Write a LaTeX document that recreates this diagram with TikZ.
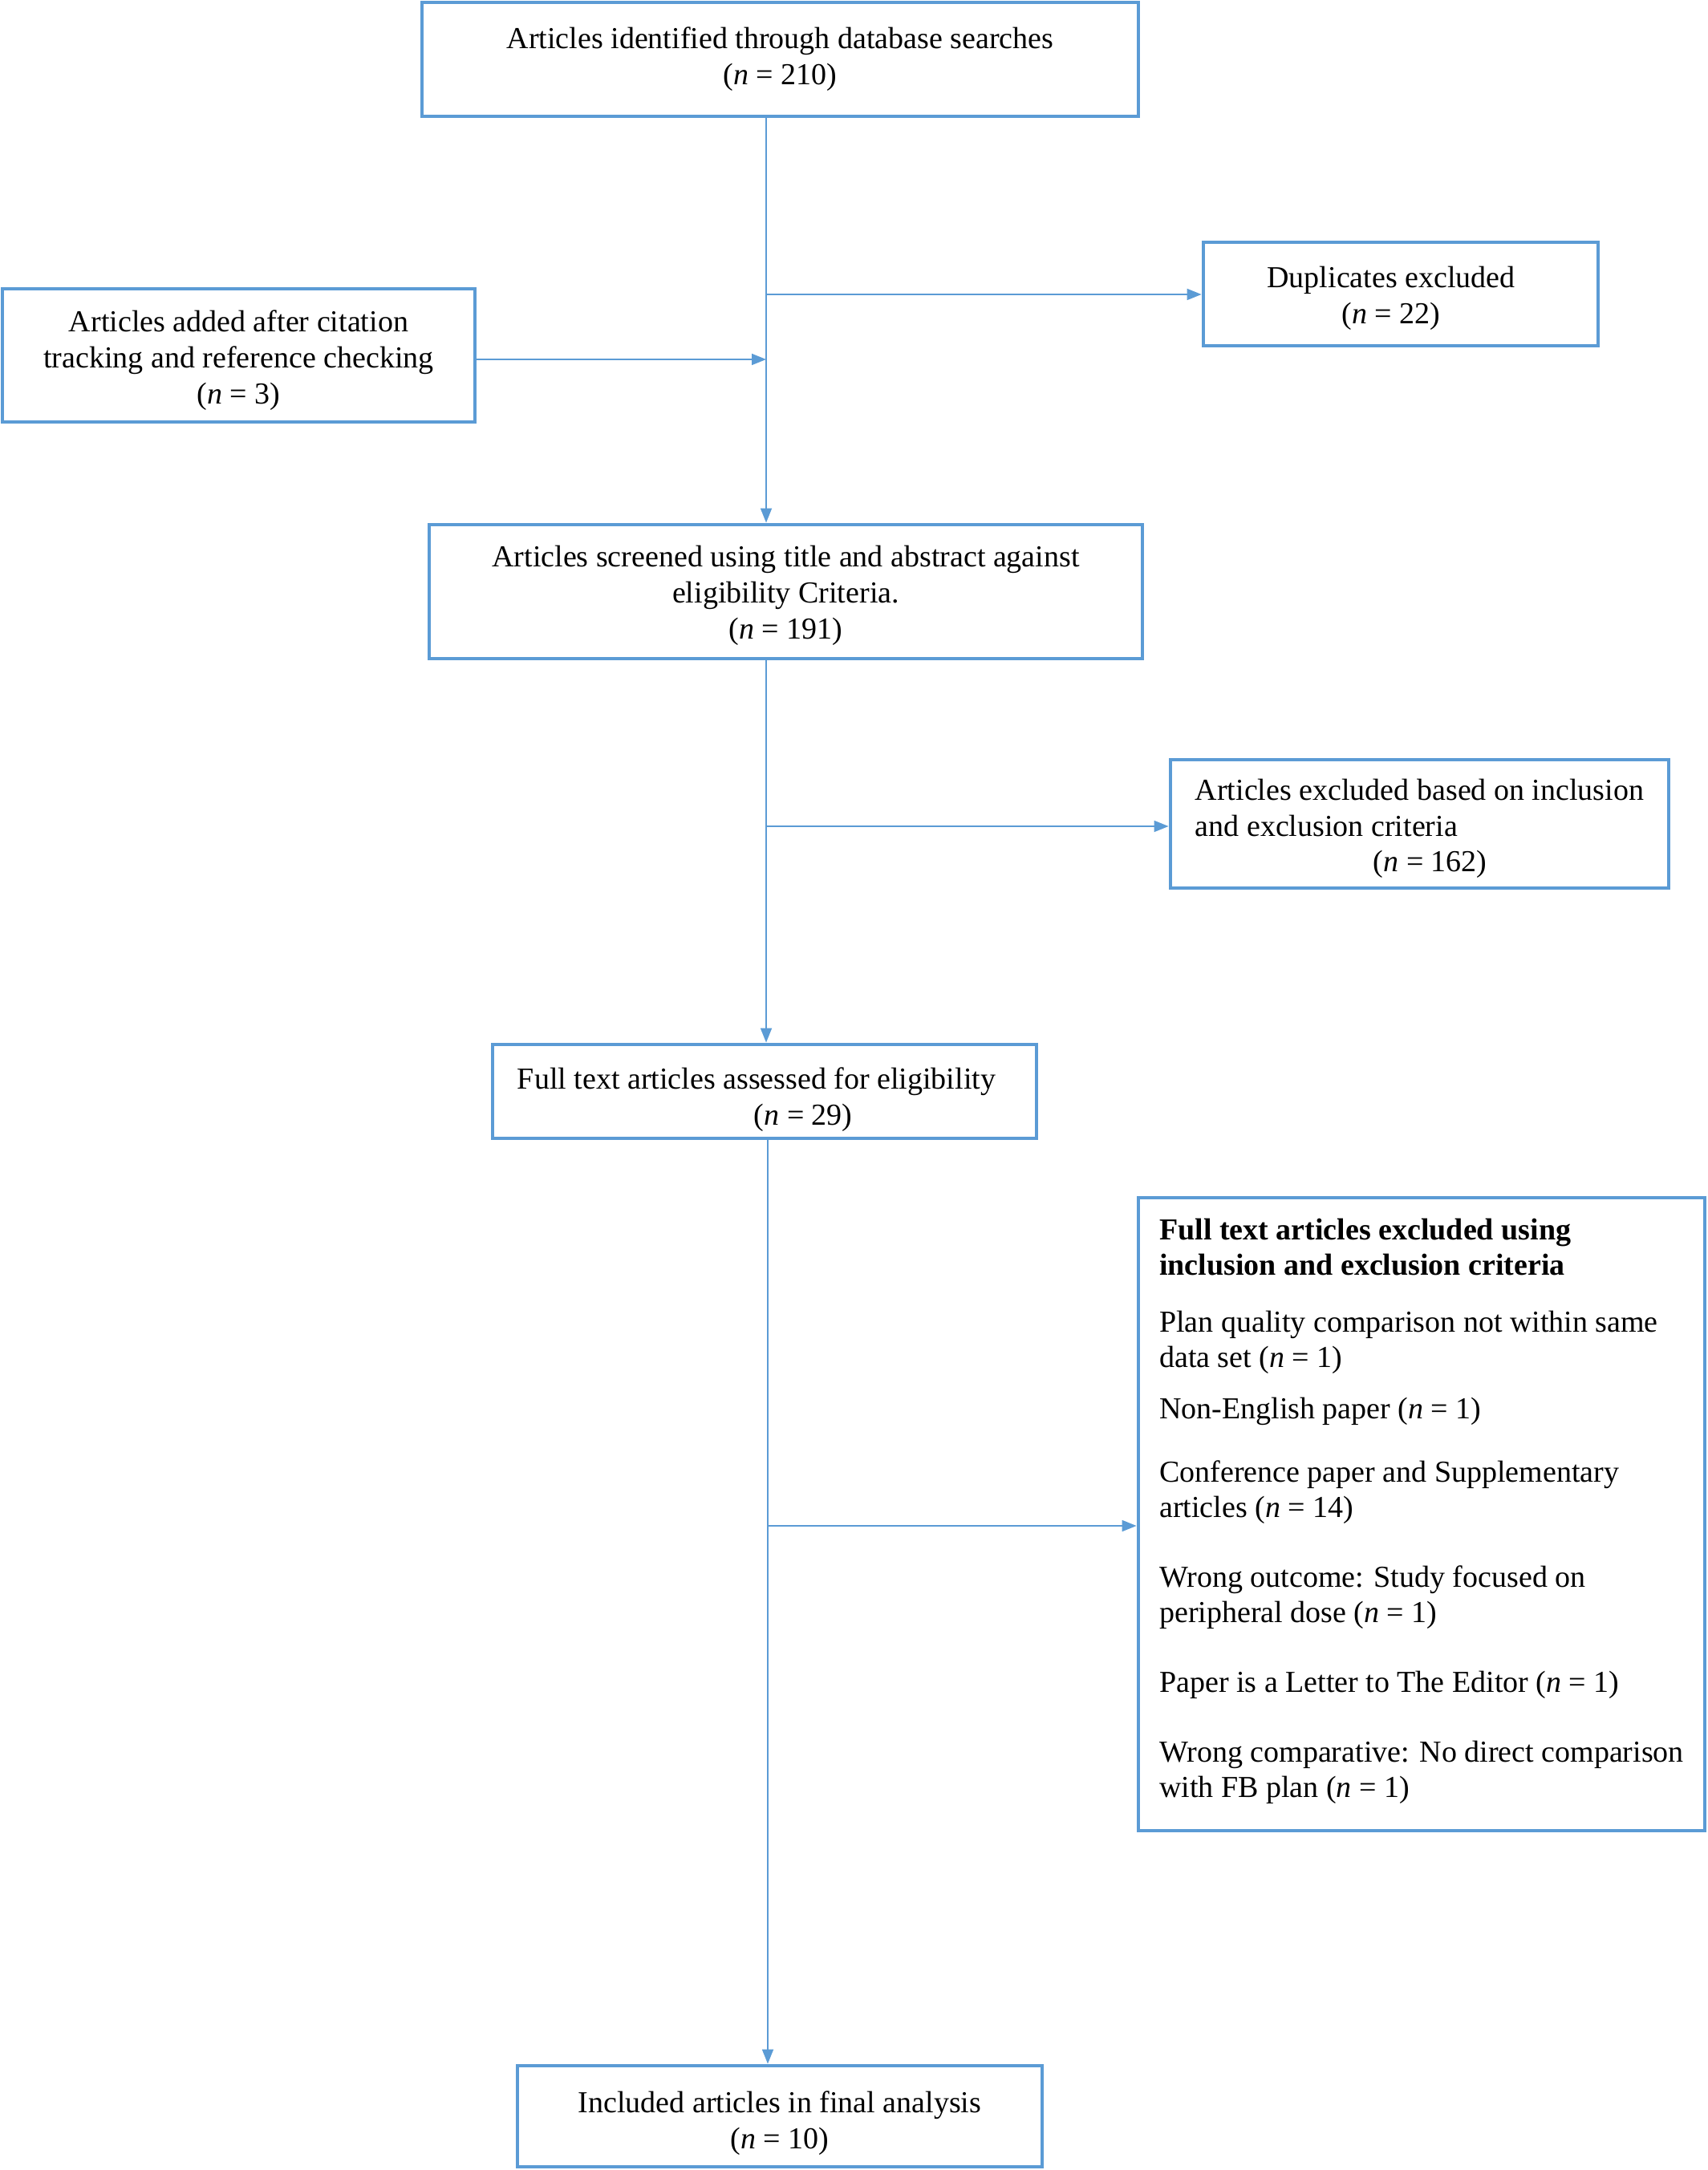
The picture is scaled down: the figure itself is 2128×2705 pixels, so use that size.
\documentclass[tikz,border=0pt]{standalone}
\usepackage{fontspec}
\setmainfont{Liberation Serif}
\usetikzlibrary{arrows.meta}
\definecolor{boxblue}{RGB}{91,155,213}
\begin{document}
\begin{tikzpicture}[x=0.25pt,y=-0.25pt,
  box/.style={draw=boxblue, line width=1.2pt, inner sep=0pt},
  txt/.style={inner sep=0pt, font=\fontsize{9.5pt}{11.2pt}\selectfont, align=center},
  conn/.style={draw=boxblue, line width=0.45pt, -{Triangle[length=4.5pt,width=3.5pt]}}]
\useasboundingbox (0,0) rectangle (2128,2705);
% boxes
\node[box, minimum width=223.25pt, minimum height=35.5pt] (b1) at (972.5,74) {};
\node[box, minimum width=123pt, minimum height=32.25pt] (dup) at (1746,366.5) {};
\node[box, minimum width=147.25pt, minimum height=41.5pt] (add) at (297.5,443) {};
\node[box, minimum width=222.25pt, minimum height=41.75pt] (scr) at (979.5,737.5) {};
\node[box, minimum width=155.25pt, minimum height=40pt] (ex1) at (1769.5,1027) {};
\node[box, minimum width=169.5pt, minimum height=29.25pt] (ft) at (953,1360.5) {};
\node[box, minimum width=176.5pt, minimum height=197.25pt] (ex2) at (1772,1887.5) {};
\node[box, minimum width=163.5pt, minimum height=31.5pt] (fin) at (972,2638) {};
% texts
\node[txt] (b1t) at (b1.center)
  {Articles identified through database searches\\(\textit{n} = 210)};
\node[txt] (dupt) at ([xshift=-3pt,yshift=-1.25pt]dup.center)
  {Duplicates excluded\\(\textit{n} = 22)};
\node[txt] (addt) at ([yshift=-1.5pt]add.center)
  {Articles added after citation\\tracking and reference checking\\(\textit{n} = 3)};
\node[txt] (scrt) at ([yshift=-1.25pt]scr.center)
  {Articles screened using title and abstract against\\eligibility Criteria.\\(\textit{n} = 191)};
\node[txt, align=left] (ex1t) at ([yshift=-1.5pt]ex1.center)
  {Articles excluded based on inclusion\\and exclusion criteria\\\hspace*{55.5pt}(\textit{n} = 162)};
\node[txt, align=left] (ftt) at ([xshift=-2.5pt,yshift=-2.5pt]ft.center)
  {Full text articles assessed for eligibility\\\hspace*{73.75pt}(\textit{n} = 29)};
\node[txt, align=left, font=\fontsize{9.5pt}{11pt}\selectfont] (ex2t) at ([yshift=0.9pt]ex2.center)
  {\textbf{Full text articles excluded using}\\
   \textbf{inclusion and exclusion criteria}\\[6.75pt]
   Plan quality comparison not within same\\
   data set (\textit{n} = 1)\\[5pt]
   Non-English paper (\textit{n} = 1)\\[8.75pt]
   Conference paper and Supplementary\\
   articles (\textit{n} = 14)\\[10.75pt]
   Wrong outcome: Study focused on\\
   peripheral dose (\textit{n} = 1)\\[10.75pt]
   Paper is a Letter to The Editor (\textit{n} = 1)\\[10.75pt]
   Wrong comparative: No direct comparison\\
   with FB plan (\textit{n} = 1)};
\node[txt] (fint) at ([yshift=-2.25pt]fin.center)
  {Included articles in final analysis\\(\textit{n} = 10)};
% connectors
\coordinate (j1) at (955,367);
\coordinate (j2) at (955,448);
\coordinate (j3) at (955,1030);
\coordinate (j4) at (957,1902);
\draw[conn] (b1.south -| j1) -- (scr.north -| j1);
\draw[conn] (j1) -- (dup.west |- j1);
\draw[conn] (add.east |- j2) -- (j2);
\draw[conn] (scr.south -| j3) -- (ft.north -| j3);
\draw[conn] (j3) -- (ex1.west |- j3);
\draw[conn] (ft.south -| j4) -- (fin.north -| j4);
\draw[conn] (j4) -- (ex2.west |- j4);
\end{tikzpicture}
\end{document}
